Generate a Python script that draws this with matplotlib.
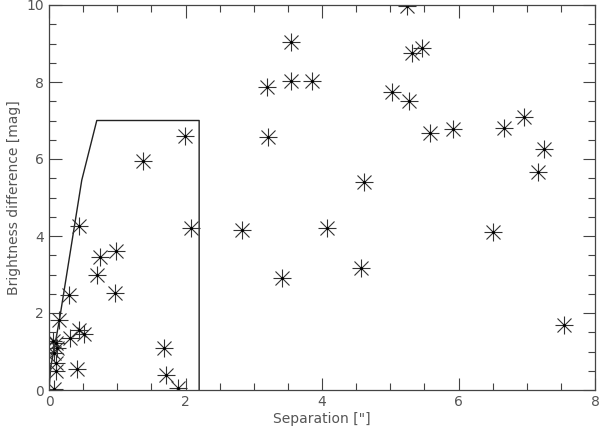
import matplotlib
matplotlib.use("Agg")
import matplotlib.pyplot as plt
from matplotlib.ticker import MultipleLocator

# Separation ["] and brightness difference [mag]
sep = [5.24, 3.54, 5.32, 5.47, 3.20, 3.54, 3.86, 5.03, 5.27, 3.21, 5.58, 5.92,
       6.66, 6.96, 7.25, 7.17, 4.61, 2.83, 4.08, 6.51, 3.41, 4.57, 7.55,
       1.99, 1.37, 2.08, 0.435, 0.98, 0.75, 0.70, 0.97, 0.30,
       1.69, 1.72, 1.89,
       0.15, 0.44, 0.52, 0.31, 0.10, 0.06, 0.12, 0.08, 0.10, 0.10, 0.41, 0.08]
dmag = [9.97, 9.05, 8.75, 8.89, 7.86, 8.03, 8.03, 7.75, 7.51, 6.58, 6.68, 6.77,
        6.81, 7.10, 6.25, 5.65, 5.39, 4.16, 4.21, 4.10, 2.92, 3.18, 1.69,
        6.60, 5.96, 4.21, 4.27, 3.62, 3.45, 2.99, 2.51, 2.46,
        1.08, 0.39, 0.04,
        1.82, 1.56, 1.45, 1.34, 1.21, 1.28, 1.10, 0.95, 0.69, 0.50, 0.54, 0.03]

# Detection-limit contour
lim_x = [0.0, 0.025, 0.09, 0.16, 0.48, 0.70, 2.20, 2.20]
lim_y = [0.0, 0.6, 1.2, 1.9, 5.45, 7.0, 7.0, 0.0]

fig = plt.figure(figsize=(6, 4.34), dpi=100)
ax = fig.add_axes([49/600, 44/434, 546/600, 385/434])

ax.plot(lim_x, lim_y, color="#222222", lw=1.0)
ax.plot(sep, dmag, linestyle="none", marker="+", ms=13, mew=0.8, color="#333333")
ax.plot(sep, dmag, linestyle="none", marker="x", ms=10, mew=0.8, color="#333333")
ax.plot(sep, dmag, linestyle="none", marker=".", ms=2.5, color="#000000")

ax.set_xlim(0, 8)
ax.set_ylim(0, 10)
ax.xaxis.set_major_locator(MultipleLocator(2))
ax.xaxis.set_minor_locator(MultipleLocator(0.5))
ax.yaxis.set_major_locator(MultipleLocator(2))
ax.yaxis.set_minor_locator(MultipleLocator(0.5))
ax.tick_params(which="both", direction="in", top=True, right=True,
               color="#444444", labelcolor="#555555", labelsize=10)
ax.tick_params(which="major", length=9, width=0.8)
ax.tick_params(which="minor", length=5, width=0.8)
for s in ax.spines.values():
    s.set_color("#444444")
    s.set_linewidth(0.9)

ax.set_xlabel("Separation [\"]", color="#555555", fontsize=10, labelpad=2)
ax.set_ylabel("Brightness difference [mag]", color="#555555", fontsize=10, labelpad=4)

fig.savefig("out.png", dpi=100)
